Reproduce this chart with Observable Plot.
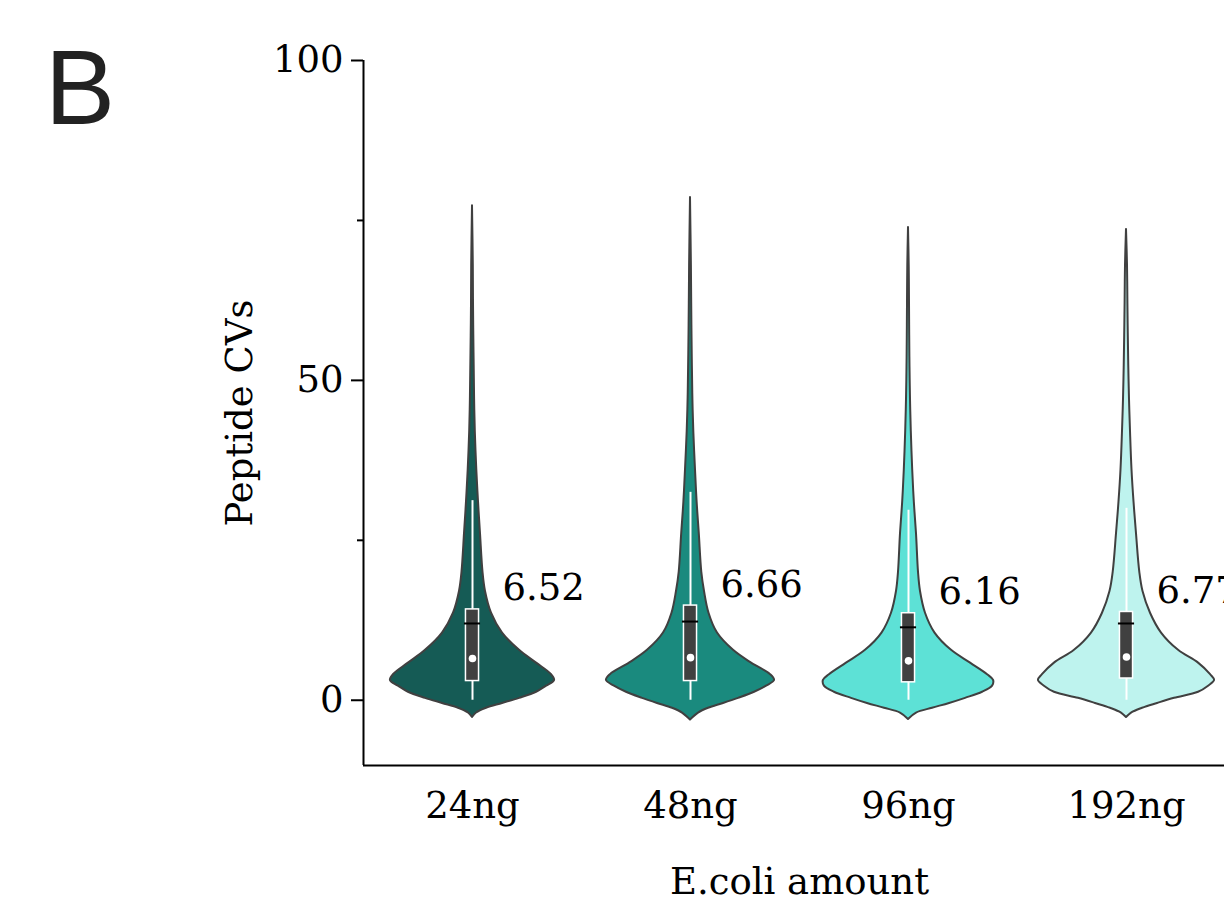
<!DOCTYPE html>
<html>
<head>
<meta charset="utf-8">
<script src="https://cdn.jsdelivr.net/npm/d3@7"></script>
<script src="https://cdn.jsdelivr.net/npm/@observablehq/plot@0.6"></script>
<style>
  html, body { margin: 0; padding: 0; background: #fff; overflow: hidden; }
  #wrap { position: relative; width: 1224px; height: 898px; overflow: hidden; }
  #panel { position: absolute; left: 45px; top: 25px; font-family: "Liberation Sans", Arial, sans-serif; font-size: 105px; line-height: 1.2; color: #222; }
  #chart { position: absolute; left: 0; top: 0; width: 1240px; }
  #chart svg { max-width: none !important; }
</style>
</head>
<body>
<div id="wrap">
  <div id="chart"></div>
  <div id="panel">B</div>
</div>
<script>
// ---- data ----
const categories = ["24ng", "48ng", "96ng", "192ng"];
const fillColors = ["#155b55", "#1a8a7e", "#5de1d6", "#bef3ee"];
const medians = [6.52, 6.66, 6.16, 6.77];
const means = [12.0, 12.3, 11.4, 12.0];
const q1 = [3.0, 3.0, 2.8, 3.4];
const q3 = [14.2, 14.8, 13.6, 13.8];
const whiskerLow = [0, 0, 0, 0];
const whiskerHigh = [31.2, 32.5, 29.7, 30.0];
const violinBottom = [-2.7, -3.1, -3.0, -2.7];
const violinTop = [77.3, 78.6, 73.9, 73.6];
// CV values at which the violin density (half-width) was read
const cvGrid = [-2, -1.25, -0.5, 0.3, 1.25, 2.2, 3.1, 4, 5.8, 7.8, 10.5, 13.6, 17, 20, 26, 31, 36, 42, 47, 52, 57, 62, 68];
const density24 = [4, 14, 30, 47, 64, 74, 82, 79, 64, 47, 30, 19, 13, 10.5, 8, 6, 4.3, 2.8, 2.1, 1.7, 1.3, 1.0, 0.8];
const density48 = [8, 18, 33, 48, 64, 76, 84, 80, 61, 43, 27, 18.5, 14, 11.3, 8.8, 6.6, 5, 3.3, 2.4, 1.9, 1.5, 1.2, 0.9];
const density96 = [8, 24, 41, 57, 74, 84, 85, 79, 62, 43, 26.5, 17, 12, 10, 8, 5.8, 4.2, 2.8, 2.0, 1.5, 1.2, 1.0, 0.7];
const density192 = [5, 16, 31, 48, 72, 82, 88, 84, 72, 52, 35, 24, 16.5, 13.3, 10, 7.5, 5.5, 4, 3, 2.3, 1.8, 1.4, 1.0];
const densities = [density24, density48, density96, density192];
const yTicksMajor = [0, 50, 100];
const yTicksMinor = [25, 75];
const yDomain = [-10.2, 100];
const xDomain = [-0.5, 3.5];

// ---- derived tables ----
const maxHalfWidth = 0.404; // in category-spacing units
const dMax = d3.max(densities.flat());
const violinRows = [];
categories.forEach((c, i) => {
  violinRows.push({i, cv: violinBottom[i], d: 0});
  cvGrid.forEach((cv, k) => violinRows.push({i, cv, d: densities[i][k]}));
  violinRows.push({i, cv: violinTop[i], d: 0});
});
const stats = categories.map((c, i) => ({
  i, c, median: medians[i], mean: means[i], q1: q1[i], q3: q3[i],
  lo: whiskerLow[i], hi: whiskerHigh[i]
}));

const serif = "DejaVu Serif, serif";
const fs = 37;
const boxHalf = 0.03;
const meanHalf = 0.037;

const marks = [];
categories.forEach((c, i) => {
  marks.push(Plot.areaX(violinRows.filter(r => r.i === i), {
    y: "cv",
    x1: r => r.i - r.d / dMax * maxHalfWidth,
    x2: r => r.i + r.d / dMax * maxHalfWidth,
    curve: "catmull-rom",
    fill: fillColors[i],
    stroke: "#404040",
    strokeWidth: 2
  }));
});
marks.push(
  Plot.ruleX(stats, {x: "i", y1: "lo", y2: "hi", stroke: "white", strokeWidth: 2}),
  Plot.rect(stats, {x1: d => d.i - boxHalf, x2: d => d.i + boxHalf, y1: "q1", y2: "q3", fill: "#404040", stroke: "white", strokeWidth: 1.5}),
  Plot.ruleY(stats, {x1: d => d.i - meanHalf, x2: d => d.i + meanHalf, y: "mean", stroke: "black", strokeWidth: 2}),
  Plot.dot(stats, {x: "i", y: "median", r: 3.8, fill: "white", stroke: null}),
  Plot.text(stats, {x: "i", y: "q3", text: d => d.median.toFixed(2), textAnchor: "start", lineAnchor: "bottom", dx: 30, dy: -9, fontSize: fs, fontFamily: serif, fill: "black"}),
  // axes
  Plot.axisY({ticks: yTicksMajor, tickSize: 12, tickPadding: 8, tickFormat: d => String(d), fontSize: fs, fontFamily: serif, label: null, strokeWidth: 2, color: "black"}),
  Plot.axisY({ticks: yTicksMinor, tickSize: 6, tickFormat: () => "", label: null, strokeWidth: 2, color: "black"}),
  Plot.axisX({ticks: [0, 1, 2, 3], tickSize: 0, tickPadding: 26, tickFormat: i => categories[i], fontSize: fs, fontFamily: serif, label: null, color: "black"}),
  Plot.ruleX([xDomain[0]], {stroke: "black", strokeWidth: 2}),
  Plot.ruleY([yDomain[0]], {stroke: "black", strokeWidth: 2}),
  Plot.text(["Peptide CVs"], {frameAnchor: "left", rotate: -90, dx: -123, lineAnchor: "middle", textAnchor: "middle", fontSize: fs, fontFamily: serif, fill: "black"}),
  Plot.text(["E.coli amount"], {frameAnchor: "bottom", dy: 128, lineAnchor: "bottom", textAnchor: "middle", fontSize: fs, fontFamily: serif, fill: "black"})
);

const chart = Plot.plot({
  width: 1240,
  height: 898,
  marginTop: 60,
  marginBottom: 133,
  marginLeft: 363,
  marginRight: 5,
  x: {type: "linear", domain: xDomain},
  y: {domain: yDomain},
  style: {background: "transparent", overflow: "visible"},
  marks
});
chart.style.maxWidth = "none";
document.getElementById("chart").appendChild(chart);
</script>
</body>
</html>
